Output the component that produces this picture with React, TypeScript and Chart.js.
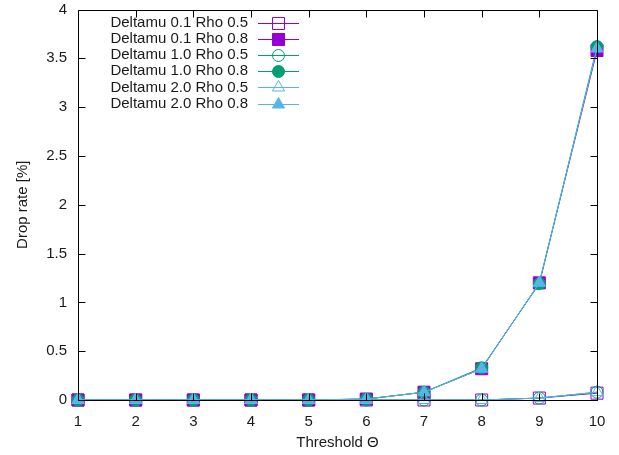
import React, { useEffect, useRef } from 'react';
import { Chart, registerables } from 'chart.js';

Chart.register(...registerables);

const thresholds = [1, 2, 3, 4, 5, 6, 7, 8, 9, 10];
const seriesNames = [
  'Deltamu 0.1 Rho 0.5',
  'Deltamu 0.1 Rho 0.8',
  'Deltamu 1.0 Rho 0.5',
  'Deltamu 1.0 Rho 0.8',
  'Deltamu 2.0 Rho 0.5',
  'Deltamu 2.0 Rho 0.8',
];
const d01r05 = [0, 0, 0, 0, 0, 0, 0, 0, 0.02, 0.07];
const d01r08 = [0, 0, 0, 0, 0, 0.01, 0.08, 0.32, 1.2, 3.58];
const d10r05 = [0, 0, 0, 0, 0, 0, 0, 0, 0.02, 0.08];
const d10r08 = [0, 0, 0, 0, 0, 0.01, 0.08, 0.33, 1.19, 3.62];
const d20r05 = [0, 0, 0, 0, 0, 0, 0, 0, 0.02, 0.08];
const d20r08 = [0, 0, 0, 0, 0, 0.01, 0.08, 0.32, 1.2, 3.6];
const seriesValues = [d01r05, d01r08, d10r05, d10r08, d20r05, d20r08];

const PURPLE = '#9400d3';
const GREEN = '#009e73';
const BLUE = '#56b4e9';
const colors = [PURPLE, PURPLE, GREEN, GREEN, BLUE, BLUE];
const shapes = ['rect', 'rect', 'circle', 'circle', 'triangle', 'triangle'];
const filled = [false, true, false, true, false, true];
const radii: Record<string, number> = { rect: 8.5, circle: 6, triangle: 7 };

const FONT = '"Liberation Sans", Arial, Helvetica, sans-serif';
const TEXT = '#1a1a1a';

function drawMarker(ctx: CanvasRenderingContext2D, shape: string, x: number, y: number, color: string, fill: boolean) {
  const r = radii[shape];
  ctx.beginPath();
  if (shape === 'rect') {
    const s = Math.SQRT1_2 * r;
    ctx.rect(x - s, y - s, 2 * s, 2 * s);
  } else if (shape === 'circle') {
    ctx.arc(x, y, r, 0, Math.PI * 2);
  } else {
    let rad = 0;
    ctx.moveTo(x + Math.sin(rad) * r, y - Math.cos(rad) * r);
    rad += (2 * Math.PI) / 3;
    ctx.lineTo(x + Math.sin(rad) * r, y - Math.cos(rad) * r);
    rad += (2 * Math.PI) / 3;
    ctx.lineTo(x + Math.sin(rad) * r, y - Math.cos(rad) * r);
    ctx.closePath();
  }
  if (fill) {
    ctx.fillStyle = color;
    ctx.fill();
  }
  ctx.strokeStyle = color;
  ctx.lineWidth = 1;
  ctx.stroke();
}

const framePlugin = {
  id: 'gnuFrame',
  afterDatasetsDraw(chart: any) {
    const { ctx, chartArea, scales } = chart;
    const L = Math.round(chartArea.left) + 0.5;
    const R = Math.round(chartArea.right) + 0.5;
    const T = Math.round(chartArea.top) + 0.5;
    const B = Math.round(chartArea.bottom) + 0.5;
    const len = 7;
    ctx.save();
    ctx.strokeStyle = '#000';
    ctx.lineWidth = 1;
    ctx.beginPath();
    ctx.rect(L, T, R - L, B - T);
    scales.x.ticks.forEach((t: any) => {
      const px = Math.round(scales.x.getPixelForValue(t.value)) + 0.5;
      ctx.moveTo(px, B);
      ctx.lineTo(px, B - len);
      ctx.moveTo(px, T);
      ctx.lineTo(px, T + len);
    });
    scales.y.ticks.forEach((t: any) => {
      const py = Math.round(scales.y.getPixelForValue(t.value)) + 0.5;
      ctx.moveTo(L, py);
      ctx.lineTo(L + len, py);
      ctx.moveTo(R, py);
      ctx.lineTo(R - len, py);
    });
    ctx.stroke();
    ctx.restore();
  },
};

const legendPlugin = {
  id: 'gnuLegend',
  afterDraw(chart: any) {
    const { ctx } = chart;
    ctx.save();
    ctx.font = `15px ${FONT}`;
    ctx.textAlign = 'right';
    ctx.textBaseline = 'middle';
    seriesNames.forEach((name, i) => {
      const y = 23 + i * 16.1;
      ctx.fillStyle = TEXT;
      ctx.fillText(name, 248, y);
      ctx.beginPath();
      ctx.strokeStyle = colors[i];
      ctx.lineWidth = 1;
      ctx.moveTo(258, Math.round(y) + 0.5);
      ctx.lineTo(299, Math.round(y) + 0.5);
      ctx.stroke();
      drawMarker(ctx, shapes[i], 278.5, Math.round(y) + 0.5, colors[i], filled[i]);
    });
    ctx.restore();
  },
};

export default function App() {
  const ref = useRef<HTMLCanvasElement | null>(null);
  useEffect(() => {
    if (!ref.current) return;
    Chart.defaults.font.family = FONT;
    const datasets = seriesNames.map((name, i) => ({
      label: name,
      data: thresholds.map((t, j) => ({ x: t, y: seriesValues[i][j] })),
      borderColor: colors[i],
      backgroundColor: colors[i],
      borderWidth: 1,
      pointStyle: shapes[i],
      pointRadius: radii[shapes[i]],
      pointBorderWidth: 1,
      pointBorderColor: colors[i],
      pointBackgroundColor: filled[i] ? colors[i] : 'rgba(0,0,0,0)',
      tension: 0,
      clip: false as any,
      order: seriesNames.length - i,
    }));
    const chart = new Chart(ref.current, {
      type: 'line',
      data: { datasets },
      options: {
        animation: false,
        responsive: false,
        devicePixelRatio: 1,
        layout: { padding: { top: 5, right: 22, left: 0, bottom: 0 } },
        plugins: { legend: { display: false }, tooltip: { enabled: false } },
        scales: {
          x: {
            type: 'linear',
            min: 1,
            max: 10,
            ticks: { stepSize: 1, padding: 5, color: TEXT, font: { size: 15 } },
            grid: { display: false },
            border: { display: false },
            title: { display: true, text: 'Threshold Θ', color: TEXT, font: { size: 15 }, padding: { top: 0, bottom: 3 } },
            afterFit: (s: any) => {
              s.height = 55;
              s.paddingLeft = 0;
              s.paddingRight = 0;
            },
          },
          y: {
            type: 'linear',
            min: 0,
            max: 4,
            ticks: {
              stepSize: 0.5,
              padding: 3,
              color: TEXT,
              font: { size: 15 },
              callback: (v: any) => String(Math.round(Number(v) * 10) / 10),
            },
            grid: { display: false },
            border: { display: false },
            title: { display: true, text: 'Drop rate [%]', color: TEXT, font: { size: 15 }, padding: { top: 14, bottom: 0 } },
            afterFit: (s: any) => {
              s.width = 78;
              s.paddingTop = 0;
              s.paddingBottom = 0;
            },
          },
        },
      },
      plugins: [framePlugin, legendPlugin],
    });
    return () => chart.destroy();
  }, []);
  return (
    <div style={{ position: 'absolute', left: 0, top: 0, width: 619, height: 455, background: '#fff' }}>
      <canvas ref={ref} width={619} height={455} style={{ display: 'block' }} />
    </div>
  );
}
